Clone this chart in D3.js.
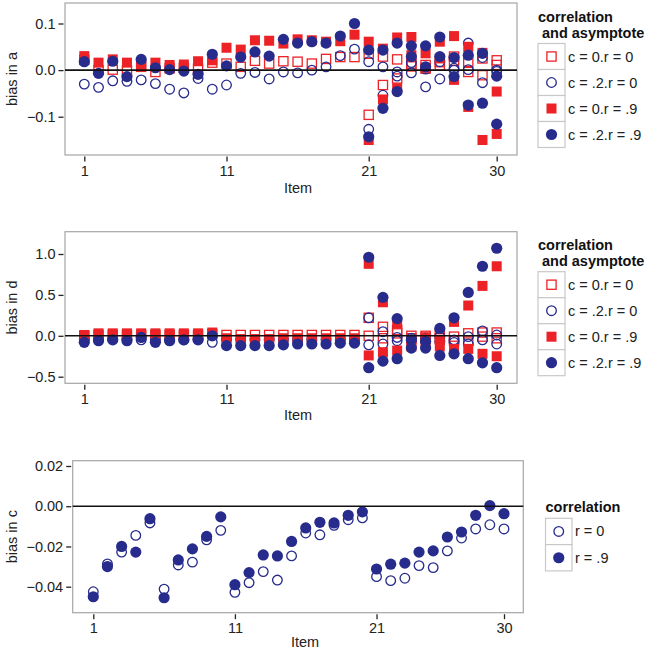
<!DOCTYPE html>
<html><head><meta charset="utf-8">
<script src="https://cdn.jsdelivr.net/npm/d3@7"></script>
<style>
body{margin:0;background:#fff;}
svg{display:block;font-family:"Liberation Sans",Arial,sans-serif;}
</style></head>
<body><svg id="chart" width="648" height="652"></svg>
<script>
// ---------- DATA ----------
const items = d3.range(1, 31);          // items 1..30
const multiItems = d3.range(21, 31);    // items with a second parameter
const xTicks = [1, 11, 21, 30];

const legendLabels4 = ["c = 0.r = 0", "c = .2.r = 0", "c = 0.r = .9", "c = .2.r = .9"];
const legendLabels2 = ["r = 0", "r = .9"];

// bias in a (first value for items 1-30, second value for items 21-30)
const aC0R0 = [0.022,0.000,0.001,-0.001,0.007,-0.004,0.004,0.005,0.003,0.016,0.014,0.007,0.020,0.014,0.019,0.018,0.014,0.024,0.028,0.028,0.035,0.029,0.023,0.014,0.011,0.017,0.029,0.018,0.025,0.021];
const aC0R0b = [-0.096,-0.032,-0.018,0.008,0.003,0.010,0.020,-0.004,-0.011,0.011];
const aC2R0 = [-0.030,-0.037,-0.023,-0.024,-0.021,-0.029,-0.041,-0.049,-0.018,-0.041,-0.032,-0.007,-0.005,-0.019,-0.004,-0.006,0.000,0.007,0.031,0.045,0.018,0.007,-0.004,0.016,-0.036,0.018,0.000,0.058,0.027,0.000];
const aC2R0b = [-0.127,-0.054,-0.013,-0.006,0.002,-0.019,0.004,0.001,-0.027,-0.003];
const aC0R9 = [0.030,0.016,0.023,0.016,0.011,0.016,0.011,0.012,0.019,0.021,0.048,0.044,0.064,0.063,0.057,0.066,0.064,0.061,0.062,0.076,0.061,0.046,0.070,0.071,0.036,0.061,0.073,0.050,0.037,-0.046];
const aC0R9b = [-0.150,-0.063,-0.039,0.032,0.005,0.025,-0.021,-0.079,-0.150,-0.137];
const aC2R9 = [0.018,-0.007,0.019,-0.014,0.023,0.005,0.001,-0.002,-0.009,0.034,0.009,0.028,0.039,0.030,0.066,0.058,0.061,0.058,0.073,0.100,0.043,0.043,0.058,0.052,0.052,0.071,0.027,0.032,0.036,-0.013];
const aC2R9b = [-0.143,-0.082,-0.046,0.029,0.007,0.029,-0.014,-0.075,-0.071,-0.116];

// bias in d
const dC0R0 = [0.00,0.01,0.01,0.01,0.01,0.01,0.01,0.01,0.01,0.02,0.01,0.01,0.01,0.01,0.01,0.01,0.01,0.01,0.01,0.01,0.22,0.11,0.07,0.00,0.00,0.03,-0.01,0.03,0.04,0.04];
const dC0R0b = [0.00,-0.03,0.03,-0.03,-0.02,-0.03,-0.06,-0.06,-0.01,-0.03];
const dC2R0 = [-0.04,-0.04,-0.04,-0.04,-0.05,-0.05,-0.05,-0.05,-0.04,-0.08,-0.05,-0.05,-0.05,-0.05,-0.05,-0.05,-0.05,-0.05,-0.05,-0.05,0.22,0.05,-0.06,-0.05,-0.03,-0.01,-0.05,-0.01,0.06,0.01];
const dC2R0b = [-0.11,-0.10,-0.02,-0.03,-0.06,-0.07,-0.08,-0.10,-0.05,-0.10];
const dC0R9 = [0.01,0.03,0.03,0.03,0.03,0.03,0.03,0.03,0.03,0.04,-0.03,-0.04,-0.04,-0.04,-0.03,-0.03,-0.03,-0.03,-0.03,-0.03,0.88,0.41,0.15,-0.08,-0.03,-0.05,0.17,0.37,0.61,0.85];
const dC0R9b = [-0.24,-0.20,-0.18,-0.13,-0.09,-0.13,-0.16,-0.16,-0.22,-0.25];
const dC2R9 = [-0.08,-0.06,-0.05,-0.06,-0.02,-0.08,-0.06,-0.05,-0.05,0.00,-0.12,-0.12,-0.12,-0.12,-0.11,-0.10,-0.10,-0.10,-0.09,-0.09,0.96,0.47,0.21,-0.05,-0.07,0.09,0.22,0.53,0.85,1.07];
const dC2R9b = [-0.39,-0.31,-0.28,-0.15,-0.15,-0.24,-0.22,-0.28,-0.33,-0.39];

// bias in c
const cR0 = [-0.0425,-0.0287,-0.0228,-0.0145,-0.0083,-0.0412,-0.0292,-0.0278,-0.0167,-0.012,-0.0428,-0.038,-0.0325,-0.0367,-0.0247,-0.0133,-0.0142,-0.0095,-0.0067,-0.0058,-0.035,-0.037,-0.0358,-0.0295,-0.0305,-0.0222,-0.0158,-0.0113,-0.0092,-0.0113];
const cR9 = [-0.045,-0.030,-0.020,-0.0228,-0.0062,-0.0455,-0.0267,-0.0212,-0.015,-0.0053,-0.039,-0.033,-0.0242,-0.0247,-0.0175,-0.0108,-0.008,-0.0083,-0.0045,-0.0028,-0.0312,-0.0288,-0.0283,-0.0228,-0.0222,-0.0153,-0.0128,-0.0045,0.0003,-0.0037];

const aTicks = [-0.1, 0, 0.1];
const dTicks = [-0.5, 0, 0.5, 1.0];
const cTicks = [-0.04, -0.02, 0, 0.02];

// ---------- STYLE ----------
const RED = "#ec2227", BLUE = "#262b8c";
const FONT = 14.5;
const svg = d3.select("#chart");

function toPoints(first, second) {
  const pts = items.map((it, i) => ({x: it, y: first[i]}));
  if (second) multiItems.forEach((it, i) => pts.push({x: it, y: second[i]}));
  return pts;
}

function drawMarker(g, type, cx, cy) {
  if (type === "openSq") {
    g.append("rect").attr("x", cx - 4.6).attr("y", cy - 4.6).attr("width", 9.2).attr("height", 9.2)
      .attr("fill", "none").attr("stroke", RED).attr("stroke-width", 1.3);
  } else if (type === "openCi") {
    g.append("circle").attr("cx", cx).attr("cy", cy).attr("r", 4.8)
      .attr("fill", "none").attr("stroke", BLUE).attr("stroke-width", 1.3);
  } else if (type === "fillSq") {
    g.append("rect").attr("x", cx - 5).attr("y", cy - 5).attr("width", 10).attr("height", 10).attr("fill", RED);
  } else {
    g.append("circle").attr("cx", cx).attr("cy", cy).attr("r", 5.6).attr("fill", BLUE);
  }
}

function drawPanel(p) {
  const x = d3.scaleLinear().domain([1, 30]).range(p.xr);
  const y = d3.scaleLinear().domain(p.ydom).range(p.yr);
  const g = svg.append("g");
  // panel border
  g.append("rect").attr("x", p.box[0]).attr("y", p.box[1])
    .attr("width", p.box[2] - p.box[0]).attr("height", p.box[3] - p.box[1])
    .attr("fill", "white").attr("stroke", "#a6a6a6").attr("stroke-width", 1.2);

  // y axis
  const ya = d3.axisLeft(y).tickValues(p.yticks).tickFormat(d3.format(p.yfmt)).tickSize(5).tickPadding(3);
  const yg = g.append("g").attr("transform", `translate(${p.box[0] - 1.5},0)`).call(ya);
  // x axis
  const xa = d3.axisBottom(x).tickValues(xTicks).tickFormat(d3.format("d")).tickSize(5).tickPadding(4);
  const xg = g.append("g").attr("transform", `translate(0,${p.box[3] + 1.5})`).call(xa);
  [yg, xg].forEach(ax => {
    ax.select(".domain").remove();
    ax.selectAll(".tick line").attr("stroke", "#222").attr("stroke-width", 1.3);
    ax.selectAll(".tick text").attr("fill", "#222").style("font-size", FONT + "px")
      .style("font-family", '"Liberation Sans",Arial,sans-serif');
  });

  // points
  const pg = g.append("g");
  p.series.forEach(s => {
    toPoints(s.first, s.second).forEach(d => drawMarker(pg, s.type, x(d.x), y(d.y)));
  });

  // zero line
  g.append("line").attr("x1", p.box[0]).attr("x2", p.box[2]).attr("y1", y(0)).attr("y2", y(0))
    .attr("stroke", "#111").attr("stroke-width", 1.6);

  // axis titles
  g.append("text").attr("x", (p.box[0] + p.box[2]) / 2 + 7).attr("y", p.box[3] + p.itemDy)
    .attr("text-anchor", "middle").attr("fill", "#222").style("font-size", FONT + "px").text("Item");
  g.append("text").attr("transform", `translate(${17},${(p.box[1] + p.box[3]) / 2}) rotate(-90)`)
    .attr("text-anchor", "middle").attr("fill", "#222").style("font-size", FONT + "px").text(p.ytitle);

  // legend
  const L = p.legend;
  const lg = g.append("g");
  L.title.forEach((t, i) => {
    lg.append("text").attr("x", L.x + (i === 0 ? 0 : 4)).attr("y", L.ty + i * 16)
      .attr("font-weight", "bold").attr("fill", "#111").style("font-size", FONT + "px").text(t);
  });
  L.types.forEach((t, i) => {
    const ky = L.ky + i * L.kh;
    lg.append("rect").attr("x", L.x).attr("y", ky).attr("width", L.kw).attr("height", L.kh)
      .attr("fill", "white").attr("stroke", "#c8c8c8").attr("stroke-width", 1.2);
    drawMarker(lg, t, L.x + L.kw / 2, ky + L.kh / 2);
    lg.append("text").attr("x", L.x + L.kw + 3).attr("y", ky + L.kh / 2 + 5)
      .attr("fill", "#222").style("font-size", FONT + "px").text(L.labels[i]);
  });
}

const types4 = ["openSq", "openCi", "fillSq", "fillCi"];

drawPanel({
  xr: [84.3, 496.7], ydom: [0.1, -0.1], yr: [23.5, 116.7], box: [65, 3, 517, 155], itemDy: 38,
  yticks: aTicks, yfmt: ".1f", ytitle: "bias in a",
  series: [
    {type: "openSq", first: aC0R0, second: aC0R0b},
    {type: "openCi", first: aC2R0, second: aC2R0b},
    {type: "fillSq", first: aC0R9, second: aC0R9b},
    {type: "fillCi", first: aC2R9, second: aC2R9b}
  ],
  legend: {x: 538, ty: 22, title: ["correlation", "and asymptote"], ky: 43.5, kh: 26, kw: 27, types: types4, labels: legendLabels4}
});

drawPanel({
  xr: [84.3, 496.7], ydom: [1.0, -0.5], yr: [254, 376.7], box: [65, 231.7, 517, 383.3], itemDy: 37,
  yticks: dTicks, yfmt: ".1f", ytitle: "bias in d",
  series: [
    {type: "openSq", first: dC0R0, second: dC0R0b},
    {type: "openCi", first: dC2R0, second: dC2R0b},
    {type: "fillSq", first: dC0R9, second: dC0R9b},
    {type: "fillCi", first: dC2R9, second: dC2R9b}
  ],
  legend: {x: 538, ty: 250, title: ["correlation", "and asymptote"], ky: 271.7, kh: 26, kw: 27, types: types4, labels: legendLabels4}
});

drawPanel({
  xr: [93.3, 504], ydom: [0.02, -0.04], yr: [466, 586.7], box: [72.7, 460.7, 523.3, 612.7], itemDy: 34,
  yticks: cTicks, yfmt: ".2f", ytitle: "bias in c",
  series: [
    {type: "openCi", first: cR0},
    {type: "fillCi", first: cR9}
  ],
  legend: {x: 545.5, ty: 512, title: ["correlation"], ky: 518.3, kh: 26.3, kw: 26.5, types: ["openCi", "fillCi"], labels: legendLabels2}
});
</script>
</body></html>
